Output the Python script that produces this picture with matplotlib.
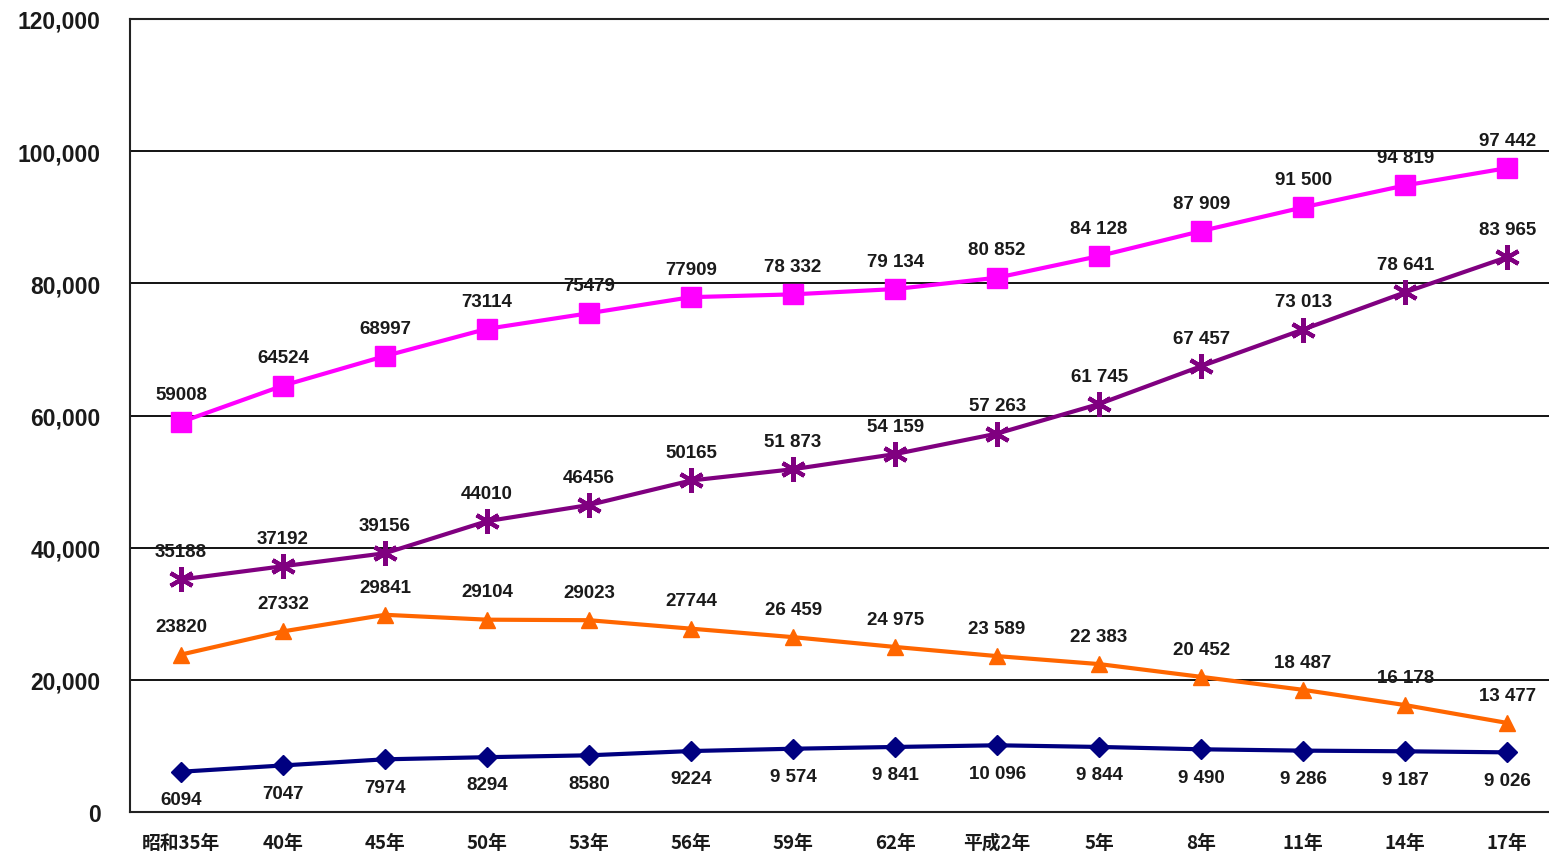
import matplotlib
matplotlib.use("Agg")
import matplotlib.pyplot as plt
from matplotlib.ticker import FuncFormatter

plt.rcParams['font.family'] = ['Liberation Sans', 'Noto Sans CJK JP', 'DejaVu Sans']

years = ['昭和35年', '40年', '45年', '50年', '53年', '56年', '59年', '62年',
         '平成2年', '5年', '8年', '11年', '14年', '17年']

total = [59008, 64524, 68997, 73114, 75479, 77909, 78332, 79134, 80852,
         84128, 87909, 91500, 94819, 97442]
series_b = [35188, 37192, 39156, 44010, 46456, 50165, 51873, 54159, 57263,
            61745, 67457, 73013, 78641, 83965]
series_c = [23820, 27332, 29841, 29104, 29023, 27744, 26459, 24975, 23589,
            22383, 20452, 18487, 16178, 13477]
series_d = [6094, 7047, 7974, 8294, 8580, 9224, 9574, 9841, 10096,
            9844, 9490, 9286, 9187, 9026]

# later survey years print thousands with a space
SPACED_FROM = 6


def fmt_value(v, i):
    if i >= SPACED_FROM:
        return f"{v:,}".replace(",", " ")
    return str(v)


fig = plt.figure(figsize=(15.49, 8.54), dpi=100)
ax = fig.add_axes([130 / 1549, 41 / 854, 1 - 130 / 1549, 793 / 854])

x = list(range(len(years)))

styles = [
    (total, '#FF00FF', 's', 15, 3, 'above'),
    (series_b, '#800080', (6, 2, 0), 18, 3, 'above'),
    (series_c, '#FF6600', '^', 12, 3, 'above'),
    (series_d, '#000080', 'D', 10, 3, 'below'),
]

for vals, color, marker, ms, lw, pos in styles:
    if isinstance(marker, tuple):
        ax.plot(x, vals, color=color, lw=lw, marker=marker, ms=ms,
                markeredgewidth=3, markeredgecolor=color, zorder=3)
    else:
        ax.plot(x, vals, color=color, lw=lw, marker=marker, ms=ms,
                markeredgecolor=color, zorder=3)
    for i, v in enumerate(vals):
        dy = 20 if pos == 'above' else -20
        ax.annotate(fmt_value(v, i), (i, v), xytext=(0, dy),
                    textcoords='offset points', ha='center',
                    va='center', fontsize=13.5, fontweight='bold',
                    color='#1a1a1a', zorder=4)

ax.set_xlim(-0.5, 13.41)
ax.set_ylim(0, 120000)
ax.set_yticks(range(0, 120001, 20000))
ax.yaxis.set_major_formatter(FuncFormatter(lambda v, p: f"{int(v):,}"))
ax.set_xticks(x)
ax.set_xticklabels(years)

ax.grid(axis='y', color='black', lw=1.3)
ax.set_axisbelow(True)
for side in ['left', 'top', 'bottom']:
    ax.spines[side].set_linewidth(1.5)
    ax.spines[side].set_color('#222222')
ax.spines['right'].set_visible(False)

ax.tick_params(axis='both', length=0)
ax.tick_params(axis='y', pad=21, labelsize=16.5)
ax.tick_params(axis='x', pad=15, labelsize=13.5)
for t in ax.get_yticklabels():
    t.set_fontweight('bold')
    t.set_color('#1a1a1a')
for t in ax.get_xticklabels():
    t.set_fontweight('bold')
    t.set_color('#1a1a1a')
    t.set_family(['Noto Sans CJK JP', 'Liberation Sans'])

fig.savefig('out.png', dpi=100)
